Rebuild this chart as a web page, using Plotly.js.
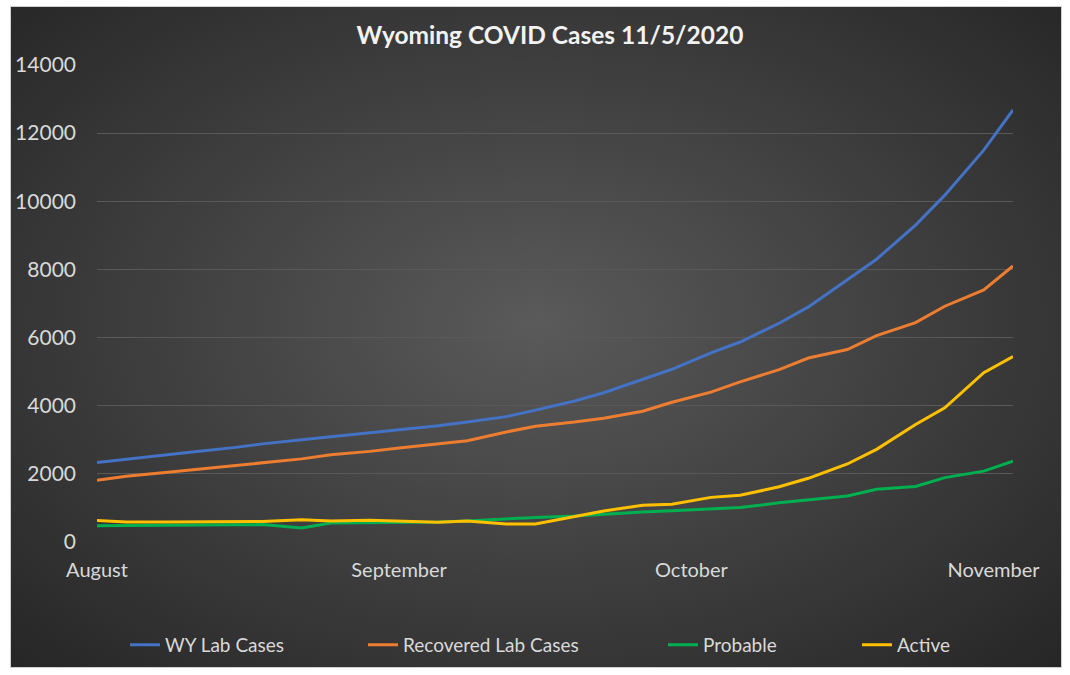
<!DOCTYPE html>
<html>
<head>
<meta charset="utf-8">
<script src="https://cdn.plot.ly/plotly-3.0.1.min.js"></script>
<style>
  html, body { margin: 0; padding: 0; background: #ffffff; }
  #bg {
    position: absolute; left: 10px; top: 6px; width: 1052px; height: 662px;
    background: radial-gradient(ellipse farthest-corner at 50% 48%, #5a5a5a 0%, #3d3d3d 55%, #262626 100%);
    border: 1px solid #d0d0d0; box-sizing: border-box;
  }
  #chart { position: absolute; left: 0; top: 0; width: 1070px; height: 675px; }
</style>
</head>
<body>
<div id="bg"></div>
<div id="chart"></div>
<script>
// Report dates (twice weekly), Aug 1 – Nov 3, 2020
const dates = [
  "2020-08-01","2020-08-04","2020-08-08","2020-08-11","2020-08-15","2020-08-18","2020-08-22",
  "2020-08-25","2020-08-29","2020-09-01","2020-09-05","2020-09-08","2020-09-12","2020-09-15",
  "2020-09-19","2020-09-22","2020-09-26","2020-09-29","2020-10-03","2020-10-06","2020-10-10",
  "2020-10-13","2020-10-17","2020-10-20","2020-10-24","2020-10-27","2020-10-31","2020-11-03"
];
const wyLabCases = [2330,2430,2560,2650,2770,2880,3000,3090,3200,3280,3410,3520,3680,3870,
                    4140,4380,4780,5070,5550,5870,6420,6900,7700,8300,9300,10180,11500,12680];
const recoveredLabCases = [1815,1930,2040,2130,2240,2340,2440,2560,2660,2760,2880,2970,3230,3400,
                           3520,3630,3840,4100,4400,4700,5060,5400,5650,6060,6440,6920,7400,8100];
const probable = [480,490,495,500,505,510,410,560,570,580,590,620,680,720,
                  760,820,880,920,960,1010,1150,1245,1350,1550,1630,1890,2080,2370];
const active = [630,590,590,590,590,600,650,620,640,610,580,620,530,530,
                760,910,1080,1110,1310,1370,1620,1870,2290,2720,3450,3940,4970,5440];
const seriesNames = ["WY Lab Cases","Recovered Lab Cases","Probable","Active"];
const yTicks = [0,2000,4000,6000,8000,10000,12000,14000];
const xTickVals = ["2020-08-01","2020-09-01","2020-10-01","2020-11-01"];
const xTickText = ["August","September","October","November"];

const colors = ["#4472C4","#ED7D31","#00B050","#FFC000"];
const allSeries = [wyLabCases, recoveredLabCases, probable, active];
const legendIds = ["legend","legend2","legend3","legend4"];

const traces = allSeries.map((vals, i) => ({
  type: "scatter", mode: "lines",
  x: dates, y: vals, name: seriesNames[i],
  line: { color: colors[i], width: 3 },
  legend: legendIds[i],
  hoverinfo: "x+y+name"
}));

const legendFont = { family: "Lato, 'Open Sans', sans-serif", size: 19, color: "#d9d9d9" };
function mkLegend(x) {
  return { x: x, xanchor: "left", y: -0.213, yanchor: "middle", orientation: "h",
           bgcolor: "rgba(0,0,0,0)", font: legendFont, borderwidth: 0 };
}

const layout = {
  width: 1070, height: 675,
  margin: { l: 97, r: 57, t: 65, b: 132 },
  paper_bgcolor: "rgba(0,0,0,0)",
  plot_bgcolor: "rgba(0,0,0,0)",
  title: {
    text: "<b>Wyoming COVID Cases 11/5/2020</b>",
    font: { family: "Lato, 'Open Sans', sans-serif", size: 24.5, color: "#f2f2f2" },
    x: 0.514, xanchor: "center", y: 0.948, yanchor: "middle"
  },
  xaxis: {
    type: "date",
    range: ["2020-08-01", "2020-11-03"],
    tickmode: "array", tickvals: xTickVals, ticktext: xTickText,
    showgrid: false, zeroline: false, showline: false, ticks: "",
    ticklabelstandoff: 14,
    tickfont: { family: "Lato, 'Open Sans', sans-serif", size: 20, color: "#d9d9d9" }
  },
  yaxis: {
    range: [0, 14000],
    tickmode: "array", tickvals: yTicks, tickformat: "d",
    showgrid: true, gridcolor: "#595959", gridwidth: 1,
    zeroline: false, showline: false, ticks: "",
    ticklabelstandoff: 20,
    tickfont: { family: "Lato, 'Open Sans', sans-serif", size: 21, color: "#d9d9d9" }
  },
  legend: mkLegend(0.0306),
  legend2: mkLegend(0.2904),
  legend3: mkLegend(0.6179),
  legend4: mkLegend(0.8297),
  showlegend: true
};

Plotly.newPlot("chart", traces, layout, { displayModeBar: false, staticPlot: true });
</script>
</body>
</html>
